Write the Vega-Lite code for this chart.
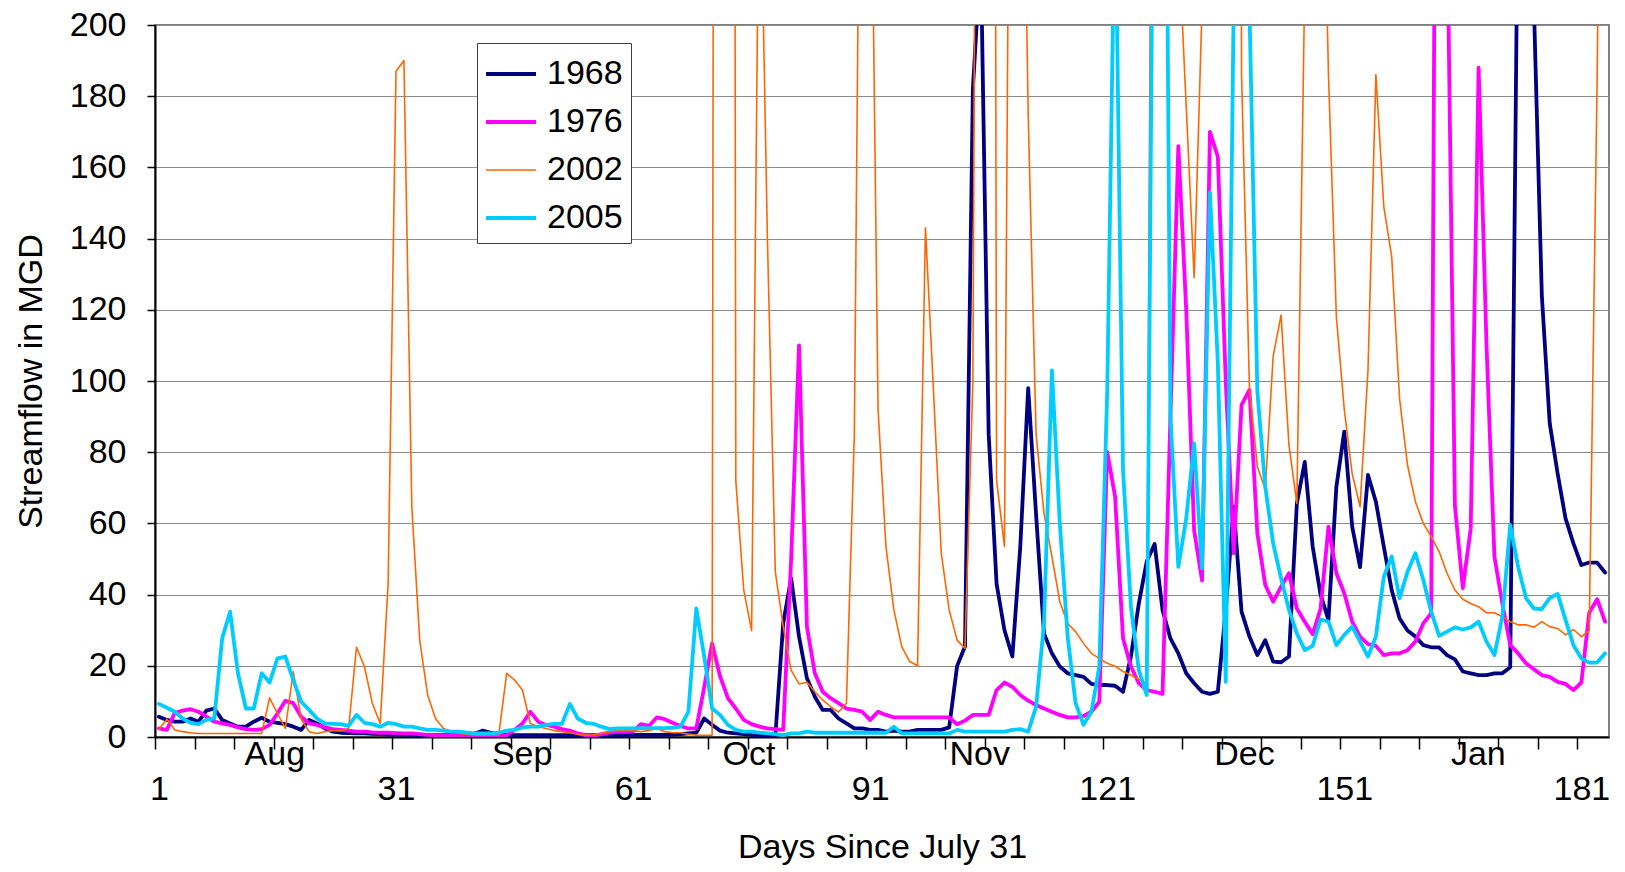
{
"$schema": "https://vega.github.io/schema/vega-lite/v6.json",
"autosize": {"type": "none"},
"width": 1454, "height": 712,
"padding": {"left": 155, "top": 25, "right": 16, "bottom": 135},
"background": "white",
"config": {"font": "Liberation Sans", "view": {"stroke": "#808080", "strokeWidth": 2}},
"data": {"values": [
{"day":1,"1968":5.7,"1976":2.4,"2002":2.2,"2005":9.3},
{"day":2,"1968":4.8,"1976":2,"2002":5,"2005":8.2},
{"day":3,"1968":4.3,"1976":6.8,"2002":2,"2005":7.1},
{"day":4,"1968":4.3,"1976":7.4,"2002":1.5,"2005":5.2},
{"day":5,"1968":5.2,"1976":7.8,"2002":1.2,"2005":4},
{"day":6,"1968":4.3,"1976":7.1,"2002":1,"2005":3.6},
{"day":7,"1968":7.4,"1976":5.7,"2002":1,"2005":4.8},
{"day":8,"1968":8,"1976":4.3,"2002":1,"2005":5.2},
{"day":9,"1968":4.8,"1976":3.8,"2002":1,"2005":27.7},
{"day":10,"1968":3.8,"1976":3.4,"2002":1,"2005":35.2},
{"day":11,"1968":2.9,"1976":2.7,"2002":1,"2005":17.9},
{"day":12,"1968":2.9,"1976":2.2,"2002":1,"2005":8},
{"day":13,"1968":4.3,"1976":2,"2002":1,"2005":8},
{"day":14,"1968":5.4,"1976":2.2,"2002":1,"2005":17.9},
{"day":15,"1968":4.3,"1976":3.4,"2002":11,"2005":15.3},
{"day":16,"1968":4,"1976":6.6,"2002":6.6,"2005":22.1},
{"day":17,"1968":3.6,"1976":10.2,"2002":2.4,"2005":22.6},
{"day":18,"1968":2.9,"1976":9.5,"2002":18.4,"2005":16},
{"day":19,"1968":2,"1976":5.7,"2002":5,"2005":9.9},
{"day":20,"1968":4.8,"1976":3.8,"2002":1.5,"2005":7.6},
{"day":21,"1968":3.8,"1976":3.4,"2002":1,"2005":5.2},
{"day":22,"1968":2.4,"1976":2.7,"2002":1.5,"2005":3.8},
{"day":23,"1968":1.5,"1976":2.2,"2002":1.8,"2005":3.7},
{"day":24,"1968":1.2,"1976":2,"2002":1.8,"2005":3.6},
{"day":25,"1968":1.1,"1976":1.8,"2002":2.4,"2005":3.1},
{"day":26,"1968":1,"1976":1.5,"2002":25.2,"2005":6.2},
{"day":27,"1968":1,"1976":1.5,"2002":19.8,"2005":4},
{"day":28,"1968":0.9,"1976":1.3,"2002":9.5,"2005":3.6},
{"day":29,"1968":0.8,"1976":1.2,"2002":3.8,"2005":2.9},
{"day":30,"1968":0.7,"1976":1.2,"2002":43,"2005":4},
{"day":31,"1968":0.7,"1976":1.1,"2002":187,"2005":3.6},
{"day":32,"1968":0.6,"1976":1,"2002":190,"2005":2.9},
{"day":33,"1968":0.6,"1976":1,"2002":64.7,"2005":2.9},
{"day":34,"1968":0.5,"1976":0.8,"2002":27.2,"2005":2.4},
{"day":35,"1968":0.5,"1976":0.6,"2002":11.8,"2005":2},
{"day":36,"1968":0.5,"1976":0.5,"2002":5.2,"2005":2},
{"day":37,"1968":0.5,"1976":0.4,"2002":2.4,"2005":1.8},
{"day":38,"1968":0.5,"1976":0.4,"2002":1.5,"2005":1.5},
{"day":39,"1968":0.5,"1976":0.4,"2002":1,"2005":1.5},
{"day":40,"1968":0.6,"1976":0.4,"2002":0.8,"2005":1.2},
{"day":41,"1968":1,"1976":0.4,"2002":0.5,"2005":1},
{"day":42,"1968":1.8,"1976":0.4,"2002":0.5,"2005":1},
{"day":43,"1968":1.2,"1976":0.4,"2002":0.5,"2005":1},
{"day":44,"1968":0.8,"1976":0.4,"2002":0.5,"2005":1.2},
{"day":45,"1968":0.6,"1976":0.5,"2002":17.9,"2005":1.8},
{"day":46,"1968":0.5,"1976":2,"2002":16,"2005":2},
{"day":47,"1968":0.5,"1976":3.8,"2002":13.2,"2005":2.7},
{"day":48,"1968":0.5,"1976":7.1,"2002":3.8,"2005":2.9},
{"day":49,"1968":0.5,"1976":4.3,"2002":2.9,"2005":2.9},
{"day":50,"1968":0.5,"1976":3.4,"2002":2.4,"2005":3.4},
{"day":51,"1968":0.5,"1976":2.9,"2002":1.8,"2005":3.7},
{"day":52,"1968":0.5,"1976":2.2,"2002":1.5,"2005":3.7},
{"day":53,"1968":0.5,"1976":1.8,"2002":1.2,"2005":9.3},
{"day":54,"1968":0.5,"1976":1,"2002":0.8,"2005":5.2},
{"day":55,"1968":0.5,"1976":0.5,"2002":0.5,"2005":4},
{"day":56,"1968":0.5,"1976":0.3,"2002":0.6,"2005":3.7},
{"day":57,"1968":0.5,"1976":0.8,"2002":1,"2005":2.9},
{"day":58,"1968":0.5,"1976":1.2,"2002":1.5,"2005":2.2},
{"day":59,"1968":0.5,"1976":1.5,"2002":1.8,"2005":2.4},
{"day":60,"1968":0.5,"1976":1.5,"2002":1.8,"2005":2.4},
{"day":61,"1968":0.6,"1976":1.5,"2002":1.8,"2005":2.4},
{"day":62,"1968":0.6,"1976":3.6,"2002":1.5,"2005":2.5},
{"day":63,"1968":0.6,"1976":3.1,"2002":1.8,"2005":2.5},
{"day":64,"1968":0.6,"1976":5.5,"2002":2.4,"2005":2.5},
{"day":65,"1968":0.6,"1976":5,"2002":1.5,"2005":2.5},
{"day":66,"1968":0.6,"1976":4,"2002":1.2,"2005":2.6},
{"day":67,"1968":0.8,"1976":3.1,"2002":1.2,"2005":2.9},
{"day":68,"1968":1,"1976":2.4,"2002":0.8,"2005":7.1},
{"day":69,"1968":1.2,"1976":2.4,"2002":0.5,"2005":36.1},
{"day":70,"1968":5.2,"1976":14,"2002":0.5,"2005":22.6},
{"day":71,"1968":3.4,"1976":26.3,"2002":0.5,"2005":8},
{"day":72,"1968":1.8,"1976":17.1,"2002":1500,"2005":6.2},
{"day":73,"1968":1.2,"1976":10.9,"2002":1500,"2005":3.4},
{"day":74,"1968":1,"1976":8,"2002":72,"2005":2},
{"day":75,"1968":0.8,"1976":4.8,"2002":41.3,"2005":1.5},
{"day":76,"1968":0.6,"1976":3.6,"2002":29.9,"2005":1.5},
{"day":77,"1968":0.5,"1976":2.9,"2002":260,"2005":1.2},
{"day":78,"1968":0.3,"1976":2.4,"2002":140,"2005":1},
{"day":79,"1968":0.2,"1976":2.2,"2002":46.4,"2005":0.8},
{"day":80,"1968":32,"1976":2,"2002":31,"2005":0.5},
{"day":81,"1968":44.6,"1976":50,"2002":18.8,"2005":1},
{"day":82,"1968":28.2,"1976":110,"2002":14.9,"2005":1},
{"day":83,"1968":16.5,"1976":31,"2002":15.4,"2005":1.5},
{"day":84,"1968":11.3,"1976":17.9,"2002":12.7,"2005":1.2},
{"day":85,"1968":7.6,"1976":12.7,"2002":10.4,"2005":1.2},
{"day":86,"1968":7.6,"1976":10.9,"2002":8.5,"2005":1.2},
{"day":87,"1968":5.2,"1976":9.5,"2002":7,"2005":1.2},
{"day":88,"1968":3.8,"1976":8,"2002":9.5,"2005":1.2},
{"day":89,"1968":2.4,"1976":7.6,"2002":85,"2005":1.2},
{"day":90,"1968":2.4,"1976":7.1,"2002":340,"2005":1.2},
{"day":91,"1968":2,"1976":4.8,"2002":280,"2005":1.2},
{"day":92,"1968":2,"1976":7.1,"2002":92,"2005":1.2},
{"day":93,"1968":1.5,"1976":6.2,"2002":53.5,"2005":1.2},
{"day":94,"1968":1.8,"1976":5.5,"2002":35.7,"2005":2.9},
{"day":95,"1968":1.5,"1976":5.5,"2002":25.4,"2005":1},
{"day":96,"1968":1.5,"1976":5.5,"2002":21.2,"2005":1},
{"day":97,"1968":2,"1976":5.5,"2002":20,"2005":1},
{"day":98,"1968":2,"1976":5.5,"2002":143,"2005":1},
{"day":99,"1968":2,"1976":5.5,"2002":98,"2005":1},
{"day":100,"1968":2,"1976":5.5,"2002":51.6,"2005":1},
{"day":101,"1968":2.7,"1976":5.5,"2002":35.7,"2005":1},
{"day":102,"1968":19.9,"1976":3.6,"2002":27.2,"2005":2},
{"day":103,"1968":25.4,"1976":4.6,"2002":24.9,"2005":1.5},
{"day":104,"1968":182,"1976":6.2,"2002":100,"2005":1.5},
{"day":105,"1968":220,"1976":6.2,"2002":600,"2005":1.5},
{"day":106,"1968":85,"1976":6.2,"2002":1200,"2005":1.5},
{"day":107,"1968":43,"1976":13.2,"2002":72,"2005":1.5},
{"day":108,"1968":30,"1976":15.3,"2002":53.5,"2005":1.5},
{"day":109,"1968":22.6,"1976":14.1,"2002":400,"2005":2},
{"day":110,"1968":53.5,"1976":11.8,"2002":314,"2005":2.2},
{"day":111,"1968":98,"1976":10.2,"2002":175,"2005":1.5},
{"day":112,"1968":62.4,"1976":9,"2002":85,"2005":8.5},
{"day":113,"1968":29.1,"1976":8,"2002":62.8,"2005":31.9},
{"day":114,"1968":23.5,"1976":7.1,"2002":50.7,"2005":103},
{"day":115,"1968":19.8,"1976":6.2,"2002":38,"2005":60},
{"day":116,"1968":17.9,"1976":5.5,"2002":31.9,"2005":28},
{"day":117,"1968":17.4,"1976":5.5,"2002":29.6,"2005":9.5},
{"day":118,"1968":16.9,"1976":5.9,"2002":26.3,"2005":3.4},
{"day":119,"1968":14.9,"1976":7.1,"2002":23.5,"2005":7.1},
{"day":120,"1968":14.6,"1976":9.9,"2002":22.1,"2005":19.8},
{"day":121,"1968":14.6,"1976":80.1,"2002":20.7,"2005":97},
{"day":122,"1968":14.4,"1976":67.5,"2002":19.9,"2005":240},
{"day":123,"1968":12.7,"1976":27.7,"2002":18.4,"2005":75},
{"day":124,"1968":22.6,"1976":19.8,"2002":17.4,"2005":36.6},
{"day":125,"1968":37.5,"1976":15.1,"2002":16.2,"2005":18.8},
{"day":126,"1968":49.3,"1976":13.2,"2002":15.1,"2005":11.8},
{"day":127,"1968":54.2,"1976":12.7,"2002":450,"2005":306},
{"day":128,"1968":35.7,"1976":12.1,"2002":400,"2005":400},
{"day":129,"1968":27.7,"1976":90,"2002":300,"2005":90},
{"day":130,"1968":23.5,"1976":166,"2002":225,"2005":47.8},
{"day":131,"1968":17.9,"1976":120,"2002":177,"2005":61.4},
{"day":132,"1968":15.1,"1976":58,"2002":129,"2005":82.5},
{"day":133,"1968":12.7,"1976":44,"2002":205,"2005":47.4},
{"day":134,"1968":12.1,"1976":170,"2002":500,"2005":153},
{"day":135,"1968":12.7,"1976":163,"2002":600,"2005":105},
{"day":136,"1968":35.7,"1976":100,"2002":700,"2005":15.5},
{"day":137,"1968":64.7,"1976":51.6,"2002":900,"2005":205},
{"day":138,"1968":35.2,"1976":93.3,"2002":186,"2005":260},
{"day":139,"1968":28.2,"1976":97.5,"2002":98,"2005":205},
{"day":140,"1968":23,"1976":57.2,"2002":76,"2005":97},
{"day":141,"1968":27.2,"1976":42.7,"2002":69.5,"2005":70.3},
{"day":142,"1968":21.2,"1976":38,"2002":107,"2005":54.4},
{"day":143,"1968":21,"1976":42.2,"2002":118.5,"2005":44.6},
{"day":144,"1968":22.6,"1976":46,"2002":82,"2005":35.7},
{"day":145,"1968":65.6,"1976":36.1,"2002":65.6,"2005":29.1},
{"day":146,"1968":77.3,"1976":32.4,"2002":212,"2005":24.4},
{"day":147,"1968":53.5,"1976":28.9,"2002":350,"2005":25.6},
{"day":148,"1968":40,"1976":36,"2002":286,"2005":33},
{"day":149,"1968":32.9,"1976":59.1,"2002":186,"2005":32.4},
{"day":150,"1968":70.3,"1976":46,"2002":118,"2005":25.8},
{"day":151,"1968":85.8,"1976":40.4,"2002":92,"2005":28.7},
{"day":152,"1968":59.1,"1976":32.4,"2002":74,"2005":31},
{"day":153,"1968":47.7,"1976":28.2,"2002":64.7,"2005":26.8},
{"day":154,"1968":73.6,"1976":26.1,"2002":103,"2005":22.6},
{"day":155,"1968":66.1,"1976":25.6,"2002":186,"2005":28.2},
{"day":156,"1968":53.5,"1976":23,"2002":149,"2005":45},
{"day":157,"1968":41.3,"1976":23.5,"2002":135,"2005":50.7},
{"day":158,"1968":33.3,"1976":23.5,"2002":95,"2005":39},
{"day":159,"1968":29.9,"1976":24.4,"2002":76.4,"2005":46.4},
{"day":160,"1968":28.2,"1976":26.8,"2002":66.1,"2005":51.6},
{"day":161,"1968":25.8,"1976":31.9,"2002":60,"2005":44.1},
{"day":162,"1968":25.2,"1976":34.7,"2002":56.3,"2005":35.2},
{"day":163,"1968":25.2,"1976":470,"2002":52.1,"2005":28.4},
{"day":164,"1968":23,"1976":234,"2002":46,"2005":29.6},
{"day":165,"1968":21.8,"1976":65,"2002":41.3,"2005":30.8},
{"day":166,"1968":18.4,"1976":41.8,"2002":38.7,"2005":30.2},
{"day":167,"1968":17.9,"1976":58.6,"2002":37.5,"2005":30.8},
{"day":168,"1968":17.4,"1976":188,"2002":36.6,"2005":32.4},
{"day":169,"1968":17.4,"1976":110,"2002":34.9,"2005":26.8},
{"day":170,"1968":17.9,"1976":50.7,"2002":34.9,"2005":23},
{"day":171,"1968":17.9,"1976":37.5,"2002":33.8,"2005":33.8},
{"day":172,"1968":19.6,"1976":25.8,"2002":32.4,"2005":59.6},
{"day":173,"1968":245,"1976":23.5,"2002":31.5,"2005":47.8},
{"day":174,"1968":300,"1976":20.7,"2002":31.5,"2005":39},
{"day":175,"1968":205,"1976":19,"2002":30.8,"2005":36.1},
{"day":176,"1968":124,"1976":17.4,"2002":32.4,"2005":35.9},
{"day":177,"1968":88.1,"1976":16.9,"2002":31,"2005":39},
{"day":178,"1968":74,"1976":15.5,"2002":30.5,"2005":40.2},
{"day":179,"1968":61.4,"1976":14.9,"2002":28.7,"2005":32.9},
{"day":180,"1968":54.4,"1976":13.2,"2002":30.2,"2005":25.8},
{"day":181,"1968":48.3,"1976":15.3,"2002":28.2,"2005":22.1},
{"day":182,"1968":49,"1976":34.9,"2002":29.9,"2005":20.9},
{"day":183,"1968":49,"1976":38.7,"2002":185,"2005":20.9},
{"day":184,"1968":46.2,"1976":32.4,"2002":400,"2005":23.5}
]},
"transform": [{"fold": ["1968", "1976", "2002", "2005"], "as": ["year", "flow"]}],
"mark": {"type": "line", "clip": true, "strokeJoin": "round", "strokeCap": "round"},
"encoding": {
  "x": {"field": "day", "type": "quantitative",
    "scale": {"domain": [0.5, 184.5], "nice": false, "zero": false},
    "axis": {
      "values": [0.5,5.5,10.5,15.5,20.5,25.5,30.5,35.5,40.5,45.5,50.5,55.5,60.5,65.5,70.5,75.5,80.5,85.5,90.5,95.5,100.5,105.5,110.5,115.5,120.5,125.5,130.5,135.5,140.5,145.5,150.5,155.5,160.5,165.5,170.5,175.5,180.5,1,31,61,91,121,151,181,15.6,46.9,75.6,104.8,138.3,167.9],
      "labelExpr": "datum.value == 15.6 ? 'Aug' : datum.value == 46.9 ? 'Sep' : datum.value == 75.6 ? 'Oct' : datum.value == 104.8 ? 'Nov' : datum.value == 138.3 ? 'Dec' : datum.value == 167.9 ? 'Jan' : (datum.value % 30 == 1 ? datum.label : '')",
      "labelPadding": {"condition": {"test": "datum.value % 30 == 1", "value": 23}, "value": -12},
      "tickOpacity": {"condition": {"test": "(datum.value - 0.5) % 5 == 0", "value": 1}, "value": 0},
      "tickSize": 12, "tickColor": "black", "tickWidth": 1.5,
      "domainColor": "black", "domainWidth": 2,
      "grid": false,
      "labelFontSize": 34, "labelColor": "black", "labelOverlap": false, "labelFlush": false, "labelBound": false,
      "title": "Days Since July 31", "titleFontSize": 34, "titleFontWeight": "normal", "titleColor": "black",
      "titleBaseline": "alphabetic", "titleY": 120
    }},
  "y": {"field": "flow", "type": "quantitative",
    "scale": {"domain": [0, 200], "nice": false},
    "axis": {
      "values": [0,20,40,60,80,100,120,140,160,180,200],
      "grid": true, "gridColor": "#8c8c8c", "gridWidth": 1.2,
      "tickSize": 8, "tickColor": "black", "tickWidth": 1.5,
      "domainColor": "black", "domainWidth": 2,
      "labelFontSize": 34, "labelColor": "black", "labelPadding": 21,
      "title": "Streamflow in MGD", "titleFontSize": 34, "titleFontWeight": "normal", "titleColor": "black",
      "titleX": -124, "titleBaseline": "middle"
    }},
  "color": {"field": "year", "type": "nominal",
    "scale": {"domain": ["1968", "1976", "2002", "2005"], "range": ["#000080", "#FF00FF", "#FF6600", "#00CCFF"]},
    "legend": {"title": " ", "titleFontSize": 6, "titlePadding": 0, "orient": "none", "legendX": 322, "legendY": 18, "direction": "vertical",
      "labelFontSize": 34, "labelColor": "black", "symbolSize": 2500, "symbolType": "stroke", "symbolOffset": 9,
      "strokeColor": "#404040", "fillColor": "white", "padding": 8, "rowPadding": 14, "labelOffset": 19,
      "encode": {"symbols": {"update": {"strokeWidth": {"signal": "datum.value == '2002' ? 1.6 : 3.8"}}}}}},
  "strokeWidth": {"condition": {"test": "datum.year == '2002'", "value": 1.6}, "value": 3.8}
}
}
